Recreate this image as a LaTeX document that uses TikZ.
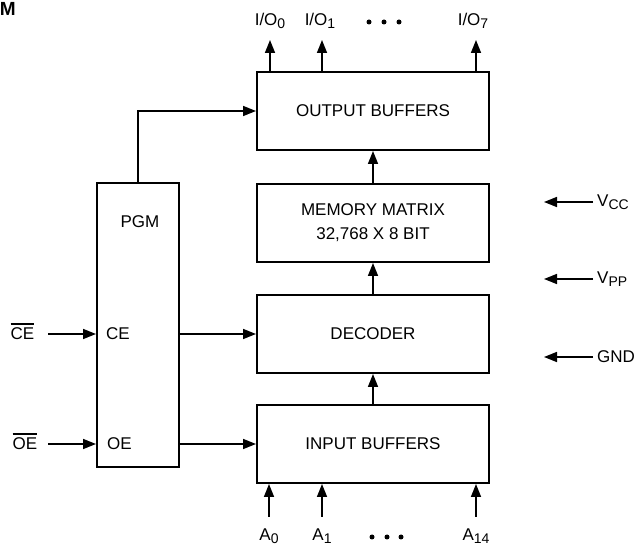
\documentclass[tikz,border=0pt]{standalone}
\usepackage{fontspec}
\setmainfont{Liberation Sans}
\usetikzlibrary{arrows.meta}
\newcommand{\ovbar}[1]{\vbox{\hrule height 1.3pt\kern 3.5pt\hbox{#1}}}
\newcommand{\subs}[1]{\raisebox{-3pt}{\fontsize{14}{14}\selectfont #1}}
\begin{document}
\begin{tikzpicture}[x=1pt,y=-1pt,
  every node/.style={font=\fontsize{17}{20}\selectfont, inner sep=0pt},
  blk/.style={draw, line width=2pt, minimum width=232pt, minimum height=78pt, align=center},
  arr/.style={line width=1.6pt, -{Triangle[length=13pt,width=10pt]}},
  dotmark/.style={circle, fill, minimum size=5pt}]
\useasboundingbox (0,0) rectangle (638,545);

% title fragment
\node[anchor=base east, font=\fontsize{19}{20}\selectfont\bfseries] (ttl) at (16,16) {M};

% blocks
\node[blk] (out) at (373,111) {OUTPUT BUFFERS};
\node[blk, font=\fontsize{17}{24}\selectfont] (mem) at (373,223) {MEMORY MATRIX\\32,768 X 8 BIT};
\node[blk] (dec) at (373,334) {DECODER};
\node[blk] (inp) at (373,444) {INPUT BUFFERS};
\node[draw, line width=2pt, minimum width=82pt, minimum height=284pt] (pgm) at (138,325) {};
\node (pgmlbl) at (140,222) {PGM};
\node[anchor=west] (cei) at (106,334) {CE};
\node[anchor=west] (oei) at (107,444) {OE};

% external control inputs
\node[anchor=base] (ceext) at (22.5,340) {\ovbar{CE}};
\node[anchor=base] (oeext) at (25,450) {\ovbar{OE}};
\coordinate (cestart) at (48,334);
\coordinate (oestart) at (48,444);
\draw[arr] (cestart) -- (cestart -| pgm.west);
\draw[arr] (oestart) -- (oestart -| pgm.west);

% internal connections
\draw[arr] (pgm.east |- dec.west) -- (dec.west);
\draw[arr] (pgm.east |- inp.west) -- (inp.west);
\draw[arr] (pgm.north) |- (out.west);
\draw[arr] (mem.north) -- (out.south);
\draw[arr] (dec.north) -- (mem.south);
\draw[arr] (inp.north) -- (dec.south);

% I/O outputs
\coordinate (iot0) at (270,40);
\coordinate (iot1) at (322,40);
\coordinate (iot7) at (476,40);
\draw[arr] (iot0 |- out.north) -- (iot0);
\draw[arr] (iot1 |- out.north) -- (iot1);
\draw[arr] (iot7 |- out.north) -- (iot7);
\node[anchor=base] (io0) at (270,26) {I/O\subs{0}};
\node[anchor=base] (io1) at (320,26) {I/O\subs{1}};
\node[anchor=base] (io7) at (473,26) {I/O\subs{7}};
\node[dotmark] (td1) at (369,22) {};
\node[dotmark] (td2) at (384,22) {};
\node[dotmark] (td3) at (399,22) {};

% address inputs
\coordinate (as0) at (269,517);
\coordinate (as1) at (322,517);
\coordinate (as14) at (476,517);
\draw[arr] (as0) -- (as0 |- inp.south);
\draw[arr] (as1) -- (as1 |- inp.south);
\draw[arr] (as14) -- (as14 |- inp.south);
\node[anchor=base] (a0) at (269,540) {A\subs{0}};
\node[anchor=base] (a1) at (322,540) {A\subs{1}};
\node[anchor=base] (a14) at (476,540) {A\subs{14}};
\node[dotmark] (bd1) at (372,537) {};
\node[dotmark] (bd2) at (387,537) {};
\node[dotmark] (bd3) at (401,537) {};

% power pins
\coordinate (vccs) at (593,202);
\coordinate (vcct) at (544,202);
\coordinate (vpps) at (593,279);
\coordinate (vppt) at (544,279);
\coordinate (gnds) at (593,357);
\coordinate (gndt) at (544,357);
\draw[arr] (vccs) -- (vcct);
\draw[arr] (vpps) -- (vppt);
\draw[arr] (gnds) -- (gndt);
\node[anchor=base west] (vcc) at (597,207) {V\subs{CC}};
\node[anchor=base west] (vpp) at (597,284) {V\subs{PP}};
\node[anchor=west] (gnd) at (597,357) {GND};
\end{tikzpicture}
\end{document}
